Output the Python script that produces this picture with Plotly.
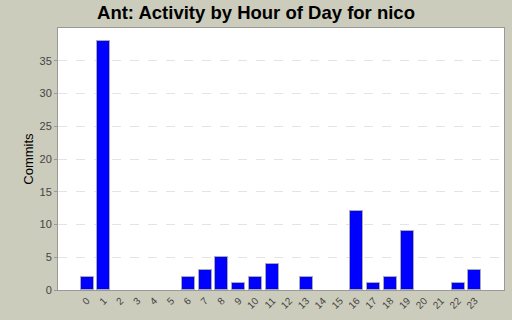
import plotly.graph_objects as go

hours = [str(h) for h in range(24)]
commits = [2, 38, 0, 0, 0, 0, 2, 3, 5, 1, 2, 4, 0, 2, 0, 0, 12, 1, 2, 9, 0, 0, 1, 3]
y_ticks = [0, 5, 10, 15, 20, 25, 30, 35]

line_widths = [1 if v > 0 else 0 for v in commits]

fig = go.Figure(go.Bar(
    x=list(range(24)), y=commits,
    marker=dict(color="#0000FF", line=dict(color="#AAAAAA", width=line_widths)),
    width=0.77,
))

fig.update_layout(
    width=512, height=320,
    margin=dict(l=58, r=8, t=28, b=30),
    paper_bgcolor="#CCCCBC",
    plot_bgcolor="#FFFFFF",
    font=dict(family="Liberation Sans, Arial, sans-serif", size=11, color="#444444"),
    title=dict(text="<b>Ant: Activity by Hour of Day for nico</b>", x=0.5, xanchor="center",
               y=0.96, yanchor="middle", yref="container",
               font=dict(size=18.5, color="#000000")),
    showlegend=False,
    bargap=0,
)
fig.update_xaxes(
    range=[-1.72, 24.72], tickmode="array", tickvals=list(range(24)), ticktext=hours,
    tickangle=-45, showgrid=False, zeroline=False,
    showline=True, linecolor="#999999", mirror=True, ticks="", tickfont=dict(size=10),
)
fig.update_yaxes(
    range=[0, 40], tickvals=y_ticks, showgrid=True, gridcolor="#E4E4E4", griddash="dash",
    zeroline=False, showline=True, linecolor="#999999", mirror=True,
    ticks="outside", ticklen=3, tickcolor="#999999",
    title=dict(text="Commits", font=dict(size=13, color="#000000"), standoff=2),
)

fig.write_html("out.html")
